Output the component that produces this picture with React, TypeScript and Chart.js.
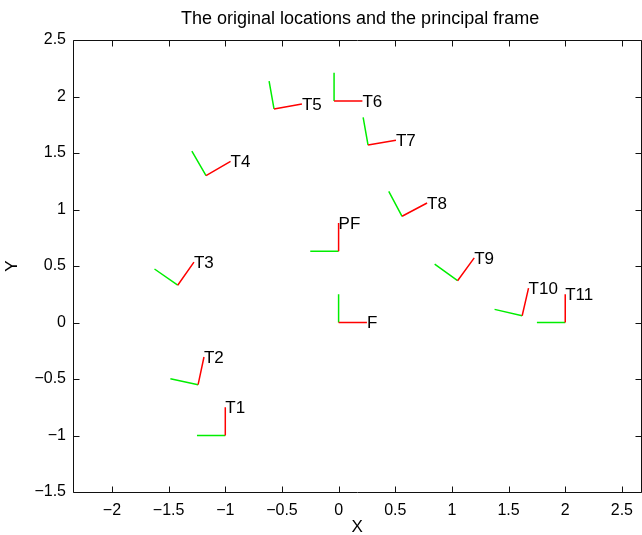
import React, { useEffect, useRef } from "react";
import { Chart, registerables } from "chart.js";

Chart.register(...registerables);

const chartTitle = "The original locations and the principal frame";
const xAxisTitle = "X";
const yAxisTitle = "Y";

const xTickValues = [-2, -1.5, -1, -0.5, 0, 0.5, 1, 1.5, 2, 2.5];
const xTickLabels = ["−2", "−1.5", "−1", "−0.5", "0", "0.5", "1", "1.5", "2", "2.5"];
const yTickValues = [-1.5, -1, -0.5, 0, 0.5, 1, 1.5, 2, 2.5];
const yTickLabels = ["−1.5", "−1", "−0.5", "0", "0.5", "1", "1.5", "2", "2.5"];
const xMin = -2.344;
const xMax = 2.67;
const yMin = -1.5;
const yMax = 2.5;

// frames: origin and rotation of the local x-axis (red); local y-axis (green) is +90°
const frameNames = ["F", "PF", "T1", "T2", "T3", "T4", "T5", "T6", "T7", "T8", "T9", "T10", "T11"];
const frameX = [0, 0, -1.0, -1.24, -1.42, -1.17, -0.57, -0.04, 0.26, 0.56, 1.05, 1.62, 2.0];
const frameY = [0, 0.63, -1.0, -0.55, 0.33, 1.3, 1.89, 1.96, 1.57, 0.94, 0.37, 0.06, 0.0];
const frameAngleDeg = [0, 90, 90, 78, 55, 30, 10, 0, 10, 28, 54, 77, 90];
const frameAxisLength = 0.25;

const FONT = "'Liberation Sans', Arial, Helvetica, sans-serif";

function axisPoints(extraDeg: number) {
  const pts: { x: number; y: number }[] = [];
  frameNames.forEach((_, i) => {
    const a = ((frameAngleDeg[i] + extraDeg) * Math.PI) / 180;
    pts.push({ x: frameX[i], y: frameY[i] });
    pts.push({ x: frameX[i] + frameAxisLength * Math.cos(a), y: frameY[i] + frameAxisLength * Math.sin(a) });
    pts.push({ x: NaN, y: NaN });
  });
  return pts;
}

const matlabAxes = {
  id: "matlabAxes",
  afterDraw(chart: any) {
    const { ctx, chartArea } = chart;
    const xs = chart.scales.x;
    const ys = chart.scales.y;
    const L = Math.round(chartArea.left) + 0.5;
    const R = Math.round(chartArea.right) + 0.5;
    const T = Math.round(chartArea.top) + 0.5;
    const B = Math.round(chartArea.bottom) + 0.5;
    ctx.save();
    ctx.strokeStyle = "#111";
    ctx.lineWidth = 1;
    ctx.beginPath();
    ctx.rect(L, T, R - L, B - T);
    ctx.stroke();
    const tl = 6;
    ctx.beginPath();
    xTickValues.forEach((v) => {
      const px = Math.round(xs.getPixelForValue(v)) + 0.5;
      ctx.moveTo(px, B);
      ctx.lineTo(px, B - tl);
      ctx.moveTo(px, T);
      ctx.lineTo(px, T + tl);
    });
    yTickValues.forEach((v) => {
      const py = Math.round(ys.getPixelForValue(v)) + 0.5;
      ctx.moveTo(L, py);
      ctx.lineTo(L + tl, py);
      ctx.moveTo(R, py);
      ctx.lineTo(R - tl, py);
    });
    ctx.stroke();

    ctx.fillStyle = "#000";
    ctx.textAlign = "center";
    ctx.textBaseline = "middle";
    ctx.font = `18px ${FONT}`;
    ctx.fillText(chartTitle, (chartArea.left + chartArea.right) / 2 + 3, 19);
    ctx.font = `17px ${FONT}`;
    ctx.fillText(xAxisTitle, (chartArea.left + chartArea.right) / 2, 527);
    ctx.save();
    ctx.translate(12, (chartArea.top + chartArea.bottom) / 2);
    ctx.rotate(-Math.PI / 2);
    ctx.fillText(yAxisTitle, 0, 0);
    ctx.restore();
    ctx.restore();
  },
  afterDatasetsDraw(chart: any) {
    const { ctx } = chart;
    const xs = chart.scales.x;
    const ys = chart.scales.y;
    ctx.save();
    ctx.fillStyle = "#000";
    ctx.font = `17px ${FONT}`;
    ctx.textAlign = "left";
    ctx.textBaseline = "middle";
    frameNames.forEach((name, i) => {
      const a = (frameAngleDeg[i] * Math.PI) / 180;
      const tx = frameX[i] + frameAxisLength * Math.cos(a);
      const ty = frameY[i] + frameAxisLength * Math.sin(a);
      ctx.fillText(name, xs.getPixelForValue(tx), ys.getPixelForValue(ty) + 1);
    });
    ctx.restore();
  },
};

export default function App() {
  const ref = useRef<HTMLCanvasElement | null>(null);
  useEffect(() => {
    if (!ref.current) return;
    const chart = new Chart(ref.current, {
      type: "scatter",
      data: {
        datasets: [
          {
            label: "frame x-axis",
            data: axisPoints(0),
            showLine: true,
            spanGaps: false,
            borderColor: "#ff0000",
            borderWidth: 1.5,
            pointRadius: 0,
          },
          {
            label: "frame y-axis",
            data: axisPoints(90),
            showLine: true,
            spanGaps: false,
            borderColor: "#00ee00",
            borderWidth: 1.5,
            pointRadius: 0,
          },
        ],
      },
      options: {
        responsive: false,
        animation: false,
        devicePixelRatio: 1,
        layout: { padding: { top: 40, right: 0, left: 0, bottom: 0 } },
        plugins: {
          legend: { display: false },
          tooltip: { enabled: false },
          title: { display: false },
        },
        scales: {
          x: {
            type: "linear",
            min: xMin,
            max: xMax,
            afterBuildTicks: (s: any) => {
              s.ticks = xTickValues.map((v) => ({ value: v }));
            },
            afterFit: (s: any) => {
              s.height = 43;
            },
            ticks: {
              autoSkip: false,
              maxRotation: 0,
              padding: 9,
              color: "#000",
              font: { family: FONT, size: 16 },
              callback: (_v: any, i: number) => xTickLabels[i],
            },
            grid: { display: false, drawTicks: false },
            border: { display: false },
          },
          y: {
            type: "linear",
            min: yMin,
            max: yMax,
            afterBuildTicks: (s: any) => {
              s.ticks = yTickValues.map((v) => ({ value: v }));
            },
            afterFit: (s: any) => {
              s.width = 73;
            },
            ticks: {
              autoSkip: false,
              padding: 7,
              color: "#000",
              font: { family: FONT, size: 16 },
              callback: (_v: any, i: number) => yTickLabels[i],
            },
            grid: { display: false, drawTicks: false },
            border: { display: false },
          },
        },
      },
      plugins: [matlabAxes],
    });
    return () => chart.destroy();
  }, []);
  return (
    <div style={{ position: "fixed", left: 0, top: 0, width: 642, height: 535, background: "#fff", overflow: "hidden" }}>
      <canvas ref={ref} width={642} height={535} style={{ width: 642, height: 535 }} />
    </div>
  );
}
